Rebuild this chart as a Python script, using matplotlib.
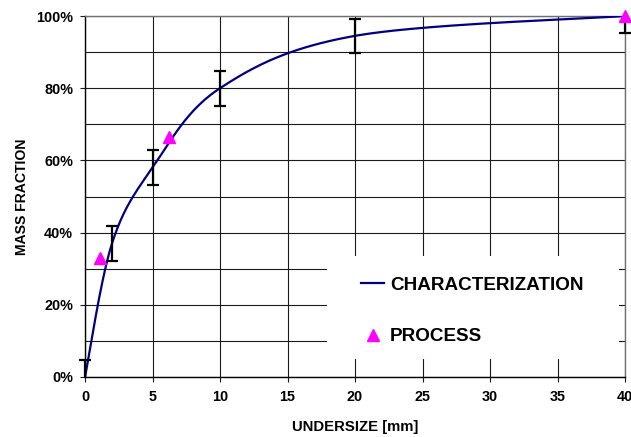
import numpy as np
import matplotlib
matplotlib.use("Agg")
import matplotlib.pyplot as plt
from matplotlib.patches import Rectangle
from matplotlib.ticker import FuncFormatter, MultipleLocator

# Characterization: cumulative undersize curve with +/- error bars
char_size = [0, 2, 5, 10, 20, 40]          # mm
char_frac = [0, 37, 58, 80, 94.5, 100]     # %
char_err = [4.8, 4.8, 4.8, 4.8, 4.8, 4.8]  # %

# Process samples
proc_size = [1.1, 6.2, 40]   # mm
proc_frac = [33, 66.5, 100]  # %

x_ticks = [0, 5, 10, 15, 20, 25, 30, 35, 40]
y_ticks = [0, 20, 40, 60, 80, 100]

plt.rcParams["font.family"] = ["Liberation Sans", "DejaVu Sans"]
plt.rcParams["font.weight"] = "bold"

W, H = 631, 437
fig = plt.figure(figsize=(W / 100, H / 100), dpi=100)
ax = fig.add_axes([85 / W, 60 / H, 540 / W, 361 / H])
ax.set_xlim(0, 40)
ax.set_ylim(0, 100)


def smooth_curve(xs, ys, sx, sy, n=60):
    """Bezier smoothing through the points, computed in display-like units."""
    P = np.column_stack([np.asarray(xs, float) * sx, np.asarray(ys, float) * sy])
    out = []
    m = len(P)
    for i in range(m - 1):
        p0 = P[i]
        p3 = P[i + 1]
        prev = P[i - 1] if i > 0 else P[i]
        nxt = P[i + 2] if i + 2 < m else P[i + 1]
        c1 = p0 + (p3 - prev) / 6.0
        c2 = p3 - (nxt - p0) / 6.0
        t = np.linspace(0, 1, n)[:, None]
        seg = ((1 - t) ** 3) * p0 + 3 * ((1 - t) ** 2) * t * c1 + 3 * (1 - t) * t ** 2 * c2 + t ** 3 * p3
        out.append(seg if i == 0 else seg[1:])
    pts = np.vstack(out)
    return pts[:, 0] / sx, pts[:, 1] / sy


sx = 540 / 40.0
sy = 361 / 100.0
cx, cy = smooth_curve(char_size, char_frac, sx, sy)

# grid
ax.set_axisbelow(True)
ax.xaxis.set_major_locator(matplotlib.ticker.FixedLocator(x_ticks))
ax.yaxis.set_major_locator(matplotlib.ticker.FixedLocator(y_ticks))
ax.yaxis.set_minor_locator(MultipleLocator(10))
ax.grid(which="major", color="#1a1a1a", lw=0.8)
ax.grid(which="minor", axis="y", color="#1a1a1a", lw=0.8)
ax.tick_params(which="minor", length=0)
ax.tick_params(which="major", direction="out", length=3.6, width=0.8, color="#1a1a1a",
               labelsize=10.4)
ax.tick_params(axis="x", pad=6)
ax.tick_params(axis="y", pad=5)
ax.yaxis.set_major_formatter(FuncFormatter(lambda v, p: f"{v:.0f}%"))
for lab in ax.get_xticklabels() + ax.get_yticklabels():
    lab.set_fontweight("bold")

for s in ["left", "bottom"]:
    ax.spines[s].set_color("black")
    ax.spines[s].set_linewidth(1.0)
for s in ["top", "right"]:
    ax.spines[s].set_color("#707070")
    ax.spines[s].set_linewidth(1.0)

# white panel behind the legend
ax.add_patch(Rectangle((0.448, 0.05), 0.541, 0.285, transform=ax.transAxes,
                       facecolor="white", edgecolor="none", zorder=1))

line, = ax.plot(cx, cy, color="#000080", lw=1.6, zorder=3, label="CHARACTERIZATION")

eb = ax.errorbar(char_size, char_frac, yerr=char_err, fmt="none", ecolor="black",
                 elinewidth=1.6, capsize=4.0, capthick=1.6, zorder=4)
clip = Rectangle((-0.02, 0.0), 1.04, 1.0, transform=ax.transAxes, visible=False)
ax.add_patch(clip)
for art in eb.lines[1] + eb.lines[2]:
    art.set_clip_on(True)
    art.set_clip_path(clip)

pts, = ax.plot(proc_size, proc_frac, linestyle="none", marker="^", ms=8.5,
               color="#ff00ff", mec="#ff00ff", zorder=5, clip_on=False, label="PROCESS")

leg = ax.legend(handles=[line, pts], loc="upper left", bbox_to_anchor=(0.511, 0.278),
                frameon=False, handlelength=1.23, handletextpad=0.32,
                labelspacing=1.81, borderpad=0, borderaxespad=0,
                prop={"weight": "bold", "size": 13.6})

ax.set_xlabel("UNDERSIZE [mm]", fontsize=10.7, fontweight="bold", labelpad=11)
ax.set_ylabel("MASS FRACTION", fontsize=10.1, fontweight="bold")
ax.yaxis.set_label_coords(-0.104, 0.5)

fig.savefig("out.png", dpi=100)
